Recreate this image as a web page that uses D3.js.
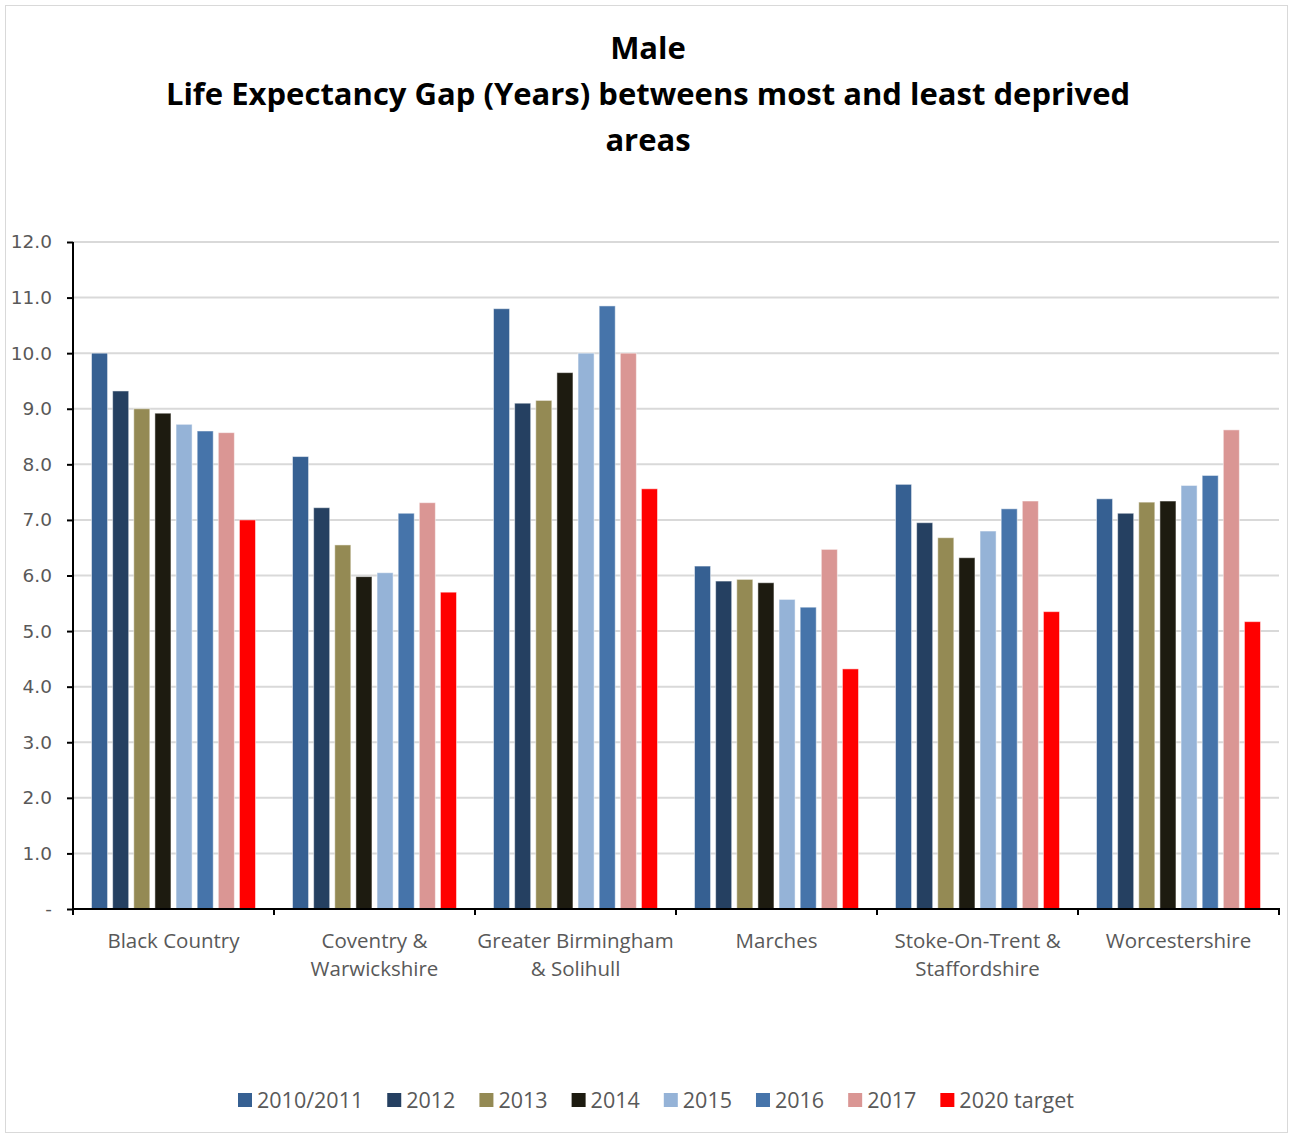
<!DOCTYPE html>
<html>
<head>
<meta charset="utf-8">
<script src="https://cdn.jsdelivr.net/npm/d3@7"></script>
<style>
  body { margin: 0; background: #fff; }
  svg { display: block; }
</style>
</head>
<body>
<div id="chart"></div>
<script>
// data
const categories = ["Black Country", "Coventry & Warwickshire", "Greater Birmingham & Solihull",
  "Marches", "Stoke-On-Trent & Staffordshire", "Worcestershire"];
const categoryLines = [["Black Country"], ["Coventry &", "Warwickshire"], ["Greater Birmingham", "& Solihull"],
  ["Marches"], ["Stoke-On-Trent &", "Staffordshire"], ["Worcestershire"]];
const seriesNames = ["2010/2011", "2012", "2013", "2014", "2015", "2016", "2017", "2020 target"];
const seriesColors = ["#366092", "#254061", "#948A54", "#1D1B10", "#95B3D7", "#4674AA", "#DA9694", "#FF0000"];

const v2010 = [10.0, 8.14, 10.8, 6.17, 7.64, 7.38];
const v2012 = [9.32, 7.22, 9.1, 5.9, 6.95, 7.12];
const v2013 = [9.0, 6.55, 9.15, 5.93, 6.68, 7.32];
const v2014 = [8.92, 5.98, 9.65, 5.87, 6.32, 7.34];
const v2015 = [8.72, 6.05, 10.0, 5.57, 6.8, 7.62];
const v2016 = [8.6, 7.12, 10.85, 5.43, 7.2, 7.8];
const v2017 = [8.57, 7.31, 10.0, 6.47, 7.34, 8.62];
const vTarget = [7.0, 5.7, 7.56, 4.32, 5.35, 5.17];
const allSeries = [v2010, v2012, v2013, v2014, v2015, v2016, v2017, vTarget];

const yTicks = [0, 1, 2, 3, 4, 5, 6, 7, 8, 9, 10, 11, 12];

const W = 1290, H = 1135;
const margin = {top: 242, right: 11, bottom: 226, left: 73};
const width = W - margin.left - margin.right,
      height = H - margin.top - margin.bottom;

const svg = d3.select("#chart").append("svg")
    .attr("width", W)
    .attr("height", H);

// outer frame
svg.append("rect")
    .attr("x", 5.5).attr("y", 5.5)
    .attr("width", W - 8).attr("height", H - 8)
    .attr("fill", "none").attr("stroke", "#d9d9d9");

// title
const title = svg.append("text")
    .attr("text-anchor", "middle")
    .style("font-family", "'Open Sans', sans-serif")
    .style("font-weight", "bold")
    .style("font-size", "31px")
    .attr("fill", "#000");
[["Male", 59], ["Life Expectancy Gap (Years) betweens most and least deprived", 105], ["areas", 151]]
  .forEach(function(d) {
    title.append("tspan").attr("x", 648).attr("y", d[1]).text(d[0]);
  });

const g = svg.append("g")
    .attr("transform", "translate(" + margin.left + "," + margin.top + ")");

const x0 = d3.scaleBand().domain(categories).range([0, width]);
const x1 = d3.scaleBand().domain(seriesNames)
    .range([18.5, x0.bandwidth() - 18.5]).paddingInner(0.24);
const y = d3.scaleLinear().domain([0, 12]).range([height, 0]);

// gridlines
g.append("g").selectAll("line")
  .data(yTicks.slice(1))
  .join("line")
    .attr("x1", 0).attr("x2", width)
    .attr("y1", function(d) { return y(d); })
    .attr("y2", function(d) { return y(d); })
    .attr("stroke", "#d9d9d9")
    .attr("stroke-width", 2);

// bars
const groups = g.append("g").selectAll("g")
  .data(categories)
  .join("g")
    .attr("transform", function(d) { return "translate(" + x0(d) + ",0)"; });

groups.selectAll("rect")
  .data(function(d, i) {
    return seriesNames.map(function(s, j) { return {s: s, v: allSeries[j][i], c: seriesColors[j]}; });
  })
  .join("rect")
    .attr("x", function(d) { return x1(d.s); })
    .attr("y", function(d) { return y(d.v); })
    .attr("width", x1.bandwidth())
    .attr("height", function(d) { return height - y(d.v); })
    .attr("fill", function(d) { return d.c; })
    .attr("stroke", "rgba(255,255,255,0.5)")
    .attr("stroke-width", 1);

// y axis
const yAxis = g.append("g")
  .call(d3.axisLeft(y).tickValues(yTicks).tickSize(6).tickPadding(15)
    .tickFormat(function(d) { return d === 0 ? "-" : d3.format(".1f")(d); }));
yAxis.select(".domain").attr("stroke", "#000").attr("stroke-width", 2).attr("d", "M0," + (height + 4) + "V0");
yAxis.selectAll(".tick line").attr("stroke", "#000").attr("stroke-width", 2);
yAxis.selectAll(".tick text")
    .style("font-family", "'DejaVu Sans', Verdana, sans-serif")
    .style("font-size", "18.5px")
    .attr("fill", "#595959");

// x axis
const xAxis = g.append("g")
    .attr("transform", "translate(0," + height + ")");
xAxis.append("line")
    .attr("x1", -1).attr("x2", width + 1)
    .attr("stroke", "#000").attr("stroke-width", 2);
xAxis.selectAll(".sep")
  .data(d3.range(categories.length + 1))
  .join("line")
    .attr("class", "sep")
    .attr("x1", function(i) { return i * x0.step(); })
    .attr("x2", function(i) { return i * x0.step(); })
    .attr("y1", 0).attr("y2", 6)
    .attr("stroke", "#000").attr("stroke-width", 2);

const labels = xAxis.selectAll(".cat")
  .data(categories)
  .join("text")
    .attr("class", "cat")
    .attr("text-anchor", "middle")
    .style("font-family", "'Open Sans', sans-serif")
    .style("font-size", "20.5px")
    .attr("fill", "#595959");
labels.each(function(d, i) {
  const t = d3.select(this);
  categoryLines[i].forEach(function(line, k) {
    t.append("tspan")
      .attr("x", x0(d) + x0.bandwidth() / 2)
      .attr("y", 39 + k * 28)
      .text(line);
  });
});

// legend
const legend = svg.append("g").attr("transform", "translate(238,1093)");
let lx = 0;
seriesNames.forEach(function(s, j) {
  const item = legend.append("g").attr("transform", "translate(" + lx + ",0)");
  item.append("rect")
    .attr("width", 14).attr("height", 14)
    .attr("fill", seriesColors[j]);
  const t = item.append("text")
    .attr("x", 19).attr("y", 15)
    .style("font-family", "'Open Sans', sans-serif")
    .style("font-size", "21.5px")
    .attr("fill", "#595959")
    .text(s);
  lx += 19 + t.node().getComputedTextLength() + 24;
});
</script>
</body>
</html>
